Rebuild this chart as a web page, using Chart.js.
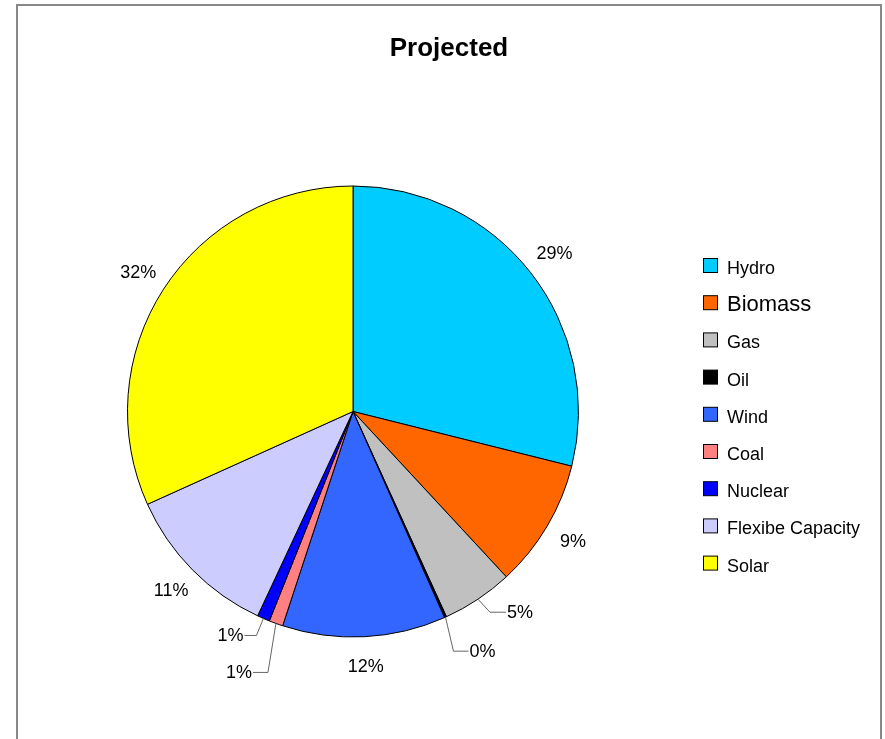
<!DOCTYPE html>
<html>
<head>
<meta charset="utf-8">
<script src="https://cdn.jsdelivr.net/npm/chart.js@4"></script>
<style>
  html, body { margin: 0; padding: 0; background: #fff; }
  #wrap { width: 885px; height: 739px; position: relative; }
</style>
</head>
<body>
<div id="wrap"><canvas id="myChart" width="885" height="739"></canvas></div>
<script>
const categories = ['Hydro', 'Biomass', 'Gas', 'Oil', 'Wind', 'Coal', 'Nuclear', 'Flexibe Capacity', 'Solar'];
const shares = [28.9, 9.2, 5.1, 0.15, 11.7, 1.0, 0.9, 11.3, 31.75];
const colors = ['#00CCFF', '#FF6600', '#C0C0C0', '#000000', '#3366FF', '#FF8080', '#0000FF', '#CCCCFF', '#FFFF00'];

// leader lines for the thin slices: elbow offset from the pie edge, then a short horizontal run
const leaders = {
  2: { dx: 12, dy: 13, run: 16 },
  3: { dx: 8, dy: 34, run: 15 },
  5: { dx: -8, dy: 49, run: -15 },
  6: { dx: -7, dy: 17, run: -12 }
};

const FONT = '"Liberation Sans", Arial, sans-serif';

const decorations = {
  id: 'decorations',
  beforeDraw(chart) {
    const c = chart.ctx;
    c.save();
    c.fillStyle = '#fff';
    c.fillRect(0, 0, chart.width, chart.height);
    c.strokeStyle = '#888';
    c.lineWidth = 2;
    c.beginPath();
    c.moveTo(17, 739);
    c.lineTo(17, 5);
    c.lineTo(881, 5);
    c.lineTo(881, 739);
    c.stroke();
    c.restore();
  },
  afterDraw(chart) {
    const c = chart.ctx;
    c.save();
    // title
    c.fillStyle = '#000';
    c.font = 'bold 26px ' + FONT;
    c.textAlign = 'center';
    c.textBaseline = 'alphabetic';
    c.fillText('Projected', 449, 56);

    // percentage labels
    const meta = chart.getDatasetMeta(0);
    const total = shares.reduce((a, b) => a + b, 0);
    c.font = '18px ' + FONT;
    meta.data.forEach((arc, i) => {
      const { x, y, startAngle, endAngle, outerRadius } = arc.getProps(['x', 'y', 'startAngle', 'endAngle', 'outerRadius'], true);
      const mid = (startAngle + endAngle) / 2;
      const txt = Math.round(shares[i] / total * 100) + '%';
      const ld = leaders[i];
      if (ld) {
        const ex = x + Math.cos(mid) * outerRadius;
        const ey = y + Math.sin(mid) * outerRadius;
        const bx = ex + ld.dx, by = ey + ld.dy;
        c.strokeStyle = '#666';
        c.lineWidth = 1;
        c.beginPath();
        c.moveTo(ex, ey);
        c.lineTo(bx, by);
        c.lineTo(bx + ld.run, by);
        c.stroke();
        c.textBaseline = 'middle';
        c.textAlign = ld.run > 0 ? 'left' : 'right';
        c.fillText(txt, bx + ld.run + (ld.run > 0 ? 1 : -1), by + 1);
      } else {
        const d = outerRadius + 30;
        c.textBaseline = 'middle';
        c.textAlign = 'center';
        c.fillText(txt, x + Math.cos(mid) * d, y + Math.sin(mid) * d);
      }
    });

    // legend
    categories.forEach((name, i) => {
      const top = 258 + i * 37.2;
      c.fillStyle = colors[i];
      c.fillRect(703.5, top + 0.5, 14, 14);
      c.strokeStyle = '#000';
      c.lineWidth = 1;
      c.strokeRect(703.5, top + 0.5, 14, 14);
      c.fillStyle = '#000';
      c.textAlign = 'left';
      c.textBaseline = 'alphabetic';
      c.font = (i === 1 ? '22px ' : '18px ') + FONT;
      c.fillText(name, 727, top + 16);
    });
    c.restore();
  }
};

const ctx = document.getElementById('myChart').getContext('2d');
const myChart = new Chart(ctx, {
  type: 'pie',
  data: {
    labels: categories,
    datasets: [{
      data: shares,
      backgroundColor: colors,
      borderColor: '#000',
      borderWidth: 1
    }]
  },
  options: {
    responsive: false,
    animation: false,
    layout: { padding: { left: 127, top: 185, right: 306, bottom: 101 } },
    plugins: {
      legend: { display: false },
      title: { display: false },
      tooltip: { enabled: false }
    }
  },
  plugins: [decorations]
});
</script>
</body>
</html>
